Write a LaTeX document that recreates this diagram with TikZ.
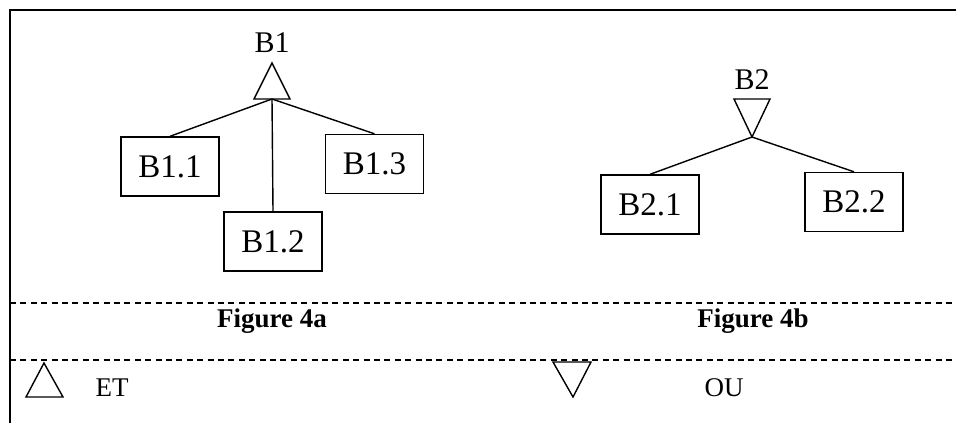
\documentclass[tikz,border=0pt]{standalone}
\usepackage{fontspec}
\setmainfont{Liberation Serif}

\tikzset{
  blockbox/.style={draw,line width=.7pt,minimum width=49pt,minimum height=29.5pt,inner sep=0pt,font=\fontsize{16.5}{18}\selectfont},
  gatelabel/.style={anchor=base,font=\fontsize{15}{17}\selectfont},
  gate/.style={line width=.7pt,line join=miter},
  separator/.style={line width=1.3pt,dash pattern=on 3pt off 2.2pt}
}

\begin{document}
\begin{tikzpicture}[x=.5pt,y=-.5pt]
\useasboundingbox (0,0) rectangle (956,423);
\draw[line width=1pt] (10,423)--(10,10)--(956,10);
% AND decomposition of B1
\node[gatelabel] (b1) at (272,52) {B1};
\draw[gate] (254,99)--(290,99)--(272,63)--cycle;
\coordinate (et1) at (272,99);
\foreach \name/\pos/\lab in {b11/{170,166.5}/B1.1, b12/{273,241.5}/B1.2, b13/{374.5,164}/B1.3}
  \node[blockbox] (\name) at (\pos) {\lab};
\foreach \name in {b11,b12,b13}
  \draw[line width=.7pt] (et1)--(\name.north);
% OR decomposition of B2
\node[gatelabel] (b2) at (752,89) {B2};
\draw[gate] (734,99)--(770,99)--(752,137)--cycle;
\coordinate (ou2) at (752,137);
\foreach \name/\pos/\lab in {b21/{650,204.5}/B2.1, b22/{854,202}/B2.2}
  \node[blockbox] (\name) at (\pos) {\lab};
\foreach \name in {b21,b22}
  \draw[line width=.7pt] (ou2)--(\name.north);
% captions and legend
\draw[separator] (10,303)--(956,303);
\draw[separator] (10,360)--(956,360);
\node[anchor=base,font=\fontsize{13.5}{15}\bfseries] (capa) at (272,327) {Figure 4a};
\node[anchor=base,font=\fontsize{13.5}{15}\bfseries] (capb) at (753,327) {Figure 4b};
\draw[gate] (26,397)--(63,397)--(44,363)--cycle;
\node[anchor=base,font=\fontsize{13.5}{15}\selectfont] (etlab) at (112,396) {ET};
\draw[gate] (553,362)--(591,362)--(573,397)--cycle;
\node[anchor=base,font=\fontsize{13.5}{15}\selectfont] (oulab) at (724,396) {OU};
\end{tikzpicture}
\end{document}
